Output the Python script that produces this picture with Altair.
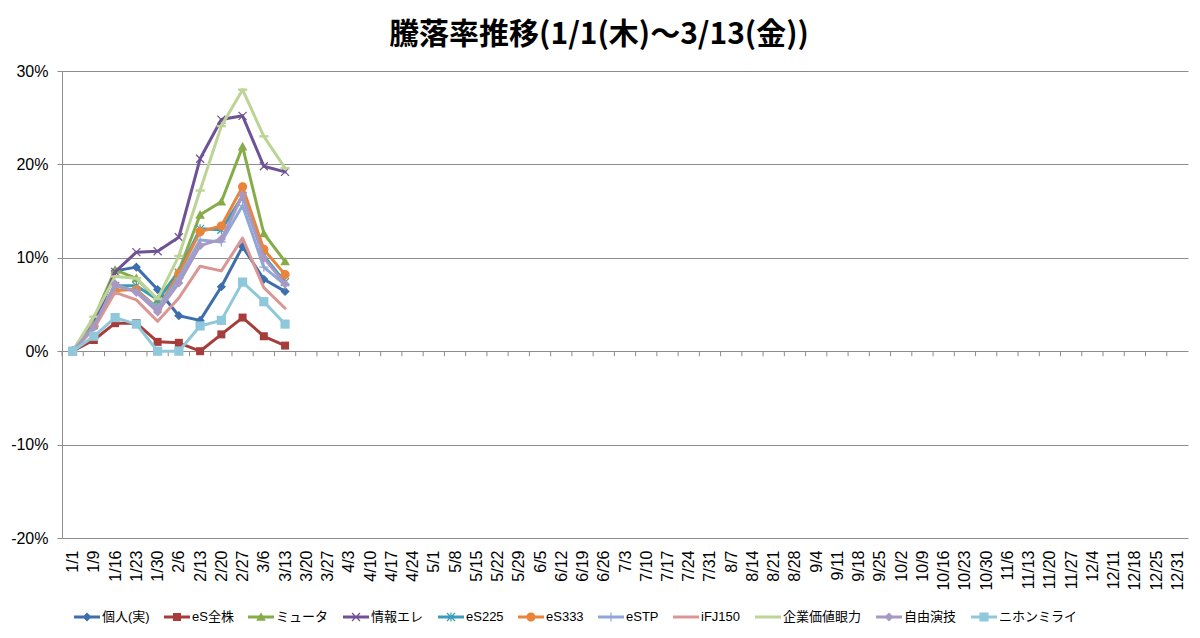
import math
import altair as alt
import pandas as pd

# ---------------- data ----------------
DATES = ["1/1", "1/9", "1/16", "1/23", "1/30", "2/6", "2/13", "2/20", "2/27", "3/6", "3/13",
         "3/20", "3/27", "4/3", "4/10", "4/17", "4/24", "5/1", "5/8", "5/15", "5/22", "5/29",
         "6/5", "6/12", "6/19", "6/26", "7/3", "7/10", "7/17", "7/24", "7/31", "8/7", "8/14",
         "8/21", "8/28", "9/4", "9/11", "9/18", "9/25", "10/2", "10/9", "10/16", "10/23",
         "10/30", "11/6", "11/13", "11/20", "11/27", "12/4", "12/11", "12/18", "12/25", "12/31"]

SERIES = ["個人(実)", "eS全株", "ミュータ", "情報エレ", "eS225", "eS333", "eSTP",
          "iFJ150", "企業価値眼力", "自由演技", "ニホンミライ"]

# values in percent for the first 11 weeks
KOJIN    = [0, 2.7, 8.6, 9.0, 6.6, 3.8, 3.3, 6.9, 11.2, 7.7, 6.4]
ES_ZEN   = [0, 1.2, 3.0, 3.0, 1.0, 0.9, 0.0, 1.8, 3.6, 1.6, 0.6]
MYUTA    = [0, 3.5, 8.7, 7.8, 5.5, 8.6, 14.6, 16.0, 21.9, 12.6, 9.6]
JOHO     = [0, 2.9, 8.5, 10.6, 10.7, 12.2, 20.6, 24.8, 25.2, 19.8, 19.2]
ES225    = [0, 2.8, 7.0, 7.0, 5.5, 8.4, 13.1, 13.0, 16.6, 10.2, 7.4]
ES333    = [0, 2.7, 6.5, 6.6, 4.6, 8.3, 12.8, 13.4, 17.6, 10.9, 8.2]
ESTP     = [0, 2.7, 7.0, 6.4, 4.6, 7.8, 11.9, 11.7, 15.6, 9.0, 7.1]
IFJ150   = [0, 2.4, 6.3, 5.5, 3.2, 5.7, 9.1, 8.6, 12.1, 6.8, 4.6]
KIGYO    = [0, 3.7, 8.0, 7.8, 5.6, 10.2, 17.2, 24.1, 28.0, 23.0, 19.6]
JIYU     = [0, 2.6, 7.2, 6.3, 4.2, 7.3, 11.3, 12.0, 16.7, 10.0, 7.2]
NIHON    = [0, 1.6, 3.6, 2.9, 0.0, 0.0, 2.7, 3.3, 7.4, 5.3, 2.9]

VALUES = [KOJIN, ES_ZEN, MYUTA, JOHO, ES225, ES333, ESTP, IFJ150, KIGYO, JIYU, NIHON]

COLORS = ["#3F6EAD", "#A73D3A", "#86AC4A", "#6F5295", "#3A9CB8", "#E8853B",
          "#8EA7D6", "#D99694", "#BCD496", "#A898C4", "#8FC8DA"]
MARKERS = ["diamond", "square", "triangle", "x", "asterisk", "circle",
           "plus", "none", "dash", "diamond", "square9"]

Y_TICKS = [-0.2, -0.1, 0.0, 0.1, 0.2, 0.3]
TITLE = "騰落率推移(1/1(木)～3/13(金))"

rows = []
for s, vals in zip(SERIES, VALUES):
    for d, v in zip(DATES, vals):
        rows.append({"date": d, "series": s, "value": v / 100.0})
df = pd.DataFrame(rows)
tick_df = pd.DataFrame({"date": DATES})

# ---------------- marker shapes (SVG paths) ----------------
def _orient(pts):
    n = len(pts)
    a = sum(pts[i][0] * pts[(i + 1) % n][1] - pts[(i + 1) % n][0] * pts[i][1] for i in range(n))
    return pts if a > 0 else pts[::-1]

def _poly(pts, u):
    pts = _orient(pts)
    return "M" + "L".join(f"{x / u:.4f},{y / u:.4f}" for x, y in pts) + "Z"

def _seg(x1, y1, x2, y2, h):
    L = math.hypot(x2 - x1, y2 - y1)
    nx, ny = -(y2 - y1) * h / L, (x2 - x1) * h / L
    return [(x1 + nx, y1 + ny), (x2 + nx, y2 + ny), (x2 - nx, y2 - ny), (x1 - nx, y1 - ny)]

def _circle(r, u):
    rr = r / u
    return f"M{-rr:.4f},0A{rr:.4f},{rr:.4f} 0 1,1 {rr:.4f},0A{rr:.4f},{rr:.4f} 0 1,1 {-rr:.4f},0Z"

def marker_path(kind, u):
    if kind == "diamond":
        return _poly([(0, -4.6), (4.6, 0), (0, 4.6), (-4.6, 0)], u)
    if kind == "square":
        r = 4.0
        return _poly([(-r, -r), (r, -r), (r, r), (-r, r)], u)
    if kind == "square9":
        r = 4.6
        return _poly([(-r, -r), (r, -r), (r, r), (-r, r)], u)
    if kind == "triangle":
        return _poly([(0, -4.8), (4.8, 3.8), (-4.8, 3.8)], u)
    if kind == "x":
        return _poly(_seg(-4, -4, 4, 4, 0.6), u) + _poly(_seg(-4, 4, 4, -4, 0.6), u)
    if kind == "asterisk":
        return (_poly(_seg(-4, -4, 4, 4, 0.6), u) + _poly(_seg(-4, 4, 4, -4, 0.6), u)
                + _poly(_seg(0, -4.6, 0, 4.6, 0.6), u))
    if kind == "plus":
        return _poly(_seg(-4.6, 0, 4.6, 0, 0.6), u) + _poly(_seg(0, -4.6, 0, 4.6, 0.6), u)
    if kind == "circle":
        return _circle(4.6, u)
    if kind == "dash":
        return _poly([(-4.6, -1.2), (4.6, -1.2), (4.6, 1.2), (-4.6, 1.2)], u)
    return ""

PLOT_U = 5.0          # size 100 -> 1 unit = 5 px
LEG_U = 13.0          # size 676 -> 1 unit = 13 px
LEG_PATHS = [_poly(_seg(-13, 0, 13, 0, 1.5), LEG_U) + marker_path(m, LEG_U) for m in MARKERS]

# ---------------- chart ----------------
GRID = "#8C8C8C"
FONT = "Liberation Sans"
LFONT = "Liberation Sans, Noto Sans CJK JP"

xscale = alt.Scale(type="point", domain=DATES, padding=0.5)
yscale = alt.Scale(domain=[-0.2, 0.3], nice=False, zero=False)
cscale = alt.Scale(domain=SERIES, range=COLORS)

x_main = alt.X("date:N", scale=xscale,
               axis=alt.Axis(title=None, labelAngle=-90, labelFont=FONT, labelFontSize=16,
                             labelColor="black", labelPadding=12, ticks=False, domain=False,
                             grid=False, labelOverlap=False))
y_main = alt.Y("value:Q", scale=yscale,
               axis=alt.Axis(title=None, values=Y_TICKS, format=".0%",
                             labelExpr="replace(datum.label, '\u2212', '-')",
                             labelFont=FONT, labelFontSize=16, labelColor="black",
                             labelPadding=9, tickSize=5, tickColor=GRID, domainColor=GRID,
                             gridColor=GRID, grid=True, gridWidth=1))
color_nl = alt.Color("series:N", scale=cscale, legend=None)

leg_kw = dict(title=None, orient="none", legendX=12, legendY=533, direction="horizontal",
              columns=11, labelFont=LFONT, labelFontSize=13, labelColor="black",
              symbolSize=676, symbolStrokeWidth=0, labelOffset=2, columnPadding=14)

# legend carrier: tiny invisible points at the first week, drawn underneath everything
legend_layer = alt.Chart(df).transform_filter(alt.datum.date == DATES[0]).mark_point(
    filled=True, opacity=1, size=1, strokeWidth=0
).encode(
    x=x_main, y=y_main,
    color=alt.Color("series:N", scale=cscale, legend=alt.Legend(**leg_kw)),
    shape=alt.Shape("series:N", scale=alt.Scale(domain=SERIES, range=LEG_PATHS),
                    legend=alt.Legend(**leg_kw)),
)

# small tick marks hanging under the 0% line, between categories
zero_ticks = alt.Chart(tick_df).mark_rule(color=GRID, strokeWidth=1, xOffset=-10.62).encode(
    x=x_main,
    y=alt.datum(0.0),
    y2=alt.datum(-0.0054),
)

layers = [legend_layer, zero_ticks]
for s, m in zip(SERIES, MARKERS):
    base = alt.Chart(df).transform_filter(alt.datum.series == s)
    layers.append(base.mark_line(strokeWidth=3, strokeJoin="round", strokeCap="round")
                  .encode(x=x_main, y=y_main, color=color_nl))
    if m != "none":
        layers.append(base.mark_point(filled=True, opacity=1, size=100,
                                      shape=marker_path(m, PLOT_U), strokeWidth=0)
                      .encode(x=x_main, y=y_main, color=color_nl))

chart = alt.layer(*layers).properties(
    width=1126, height=467,
    padding={"left": 54, "top": 63, "right": 4, "bottom": 92},
    autosize=alt.AutoSizeParams(type="none"),
    title=alt.Title(TITLE, font="Noto Sans CJK JP", fontSize=30, fontWeight="bold",
                    color="black", anchor="middle", dx=-26, offset=13),
    background="white",
).configure_view(stroke=None)

chart.save("out.html", embed_options={"renderer": "svg", "actions": False})
